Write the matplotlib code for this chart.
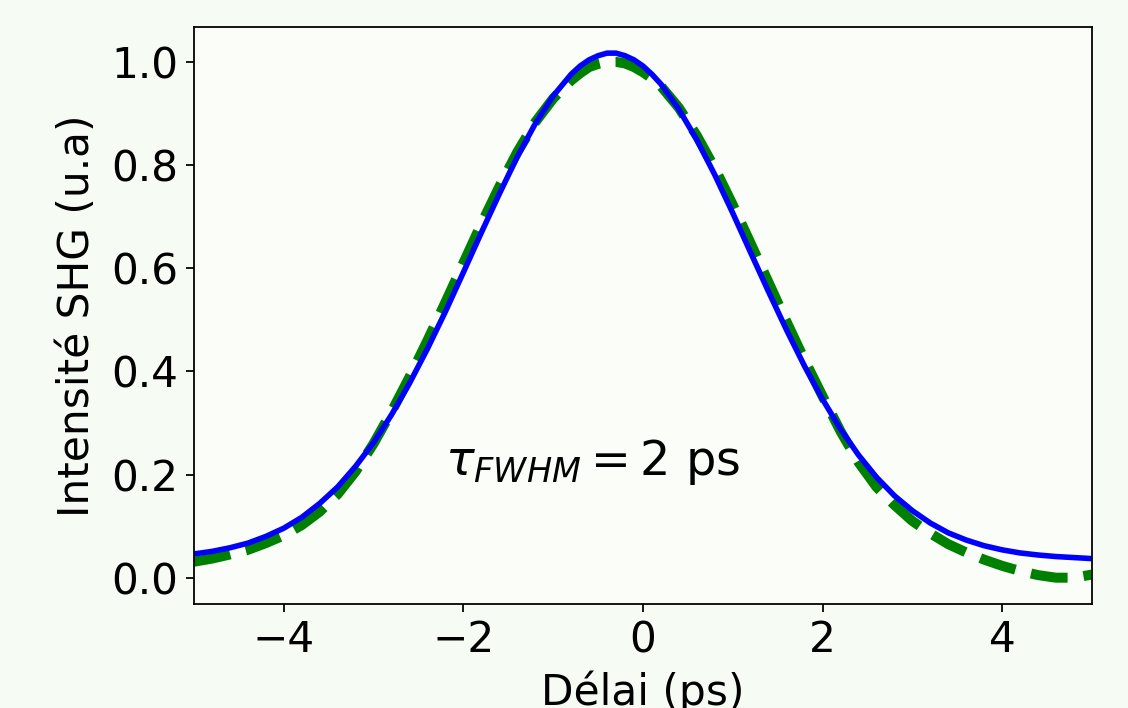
import matplotlib
matplotlib.use("Agg")
import matplotlib.pyplot as plt

# Delay axis (ps)
delay = [-5.0, -4.8, -4.6, -4.4, -4.2, -4.0, -3.8, -3.6, -3.4, -3.2,
         -3.0, -2.8, -2.6, -2.4, -2.2, -2.0, -1.8, -1.6, -1.4, -1.2,
         -1.0, -0.8, -0.7, -0.6, -0.5, -0.4, -0.3, -0.2, -0.1, 0.0, 0.1, 0.2, 0.4, 0.6, 0.8,
         1.0, 1.2, 1.4, 1.6, 1.8, 2.0, 2.2, 2.4, 2.6, 2.8,
         3.0, 3.2, 3.4, 3.6, 3.8, 4.0, 4.2, 4.4, 4.6, 4.8, 5.0]

# Measured SHG trace (green dashed)
shg_measured = [0.031, 0.037, 0.045, 0.054, 0.067, 0.082, 0.102, 0.128, 0.162, 0.206,
                0.260, 0.322, 0.389, 0.460, 0.534, 0.610, 0.686, 0.758, 0.825, 0.883,
                0.929, 0.964, 0.978, 0.990, 0.996, 1.000, 1.000, 0.997, 0.990, 0.980, 0.968, 0.953,
                0.911, 0.857, 0.794,
                0.723, 0.648, 0.572, 0.496, 0.422, 0.352, 0.284, 0.224, 0.176, 0.141,
                0.110, 0.086, 0.065, 0.049, 0.035, 0.023, 0.013, 0.005, 0.000, 0.000, 0.006]

# Fitted SHG trace (blue solid)
shg_fit = [0.046, 0.051, 0.058, 0.067, 0.080, 0.096, 0.117, 0.144, 0.176, 0.216,
           0.262, 0.316, 0.377, 0.444, 0.516, 0.592, 0.669, 0.744, 0.816, 0.880,
           0.934, 0.976, 0.992, 1.004, 1.012, 1.017, 1.017, 1.012, 1.004, 0.992, 0.976, 0.957,
           0.908, 0.849, 0.781,
           0.707, 0.630, 0.554, 0.480, 0.410, 0.346, 0.288, 0.238, 0.195, 0.159,
           0.130, 0.106, 0.087, 0.073, 0.062, 0.054, 0.048, 0.044, 0.041, 0.039, 0.037]

xticks = [-4, -2, 0, 2, 4]
yticks = [0.0, 0.2, 0.4, 0.6, 0.8, 1.0]

fig = plt.figure(figsize=(7.05, 4.425), dpi=160, facecolor="#f6fbf3")
ax = fig.add_axes([0.172, 0.147, 0.796, 0.815])
ax.set_facecolor("#fafdf8")

ax.plot(delay, shg_measured, color="green", linestyle="--", linewidth=4.5)
ax.plot(delay, shg_fit, color="blue", linewidth=2.5)

ax.set_xlim(-5, 5)
ax.set_xticks(xticks)
ax.set_yticks(yticks)
ax.tick_params(labelsize=19)
ax.set_xlabel("Délai (ps)", fontsize=19)
ax.set_ylabel("Intensité SHG (u.a)", fontsize=19, labelpad=6)

ax.text(-2.2, 0.2, r"$\tau_{FWHM} = 2$ ps", fontsize=21.5)

fig.savefig("out.png", dpi=160, facecolor=fig.get_facecolor())
